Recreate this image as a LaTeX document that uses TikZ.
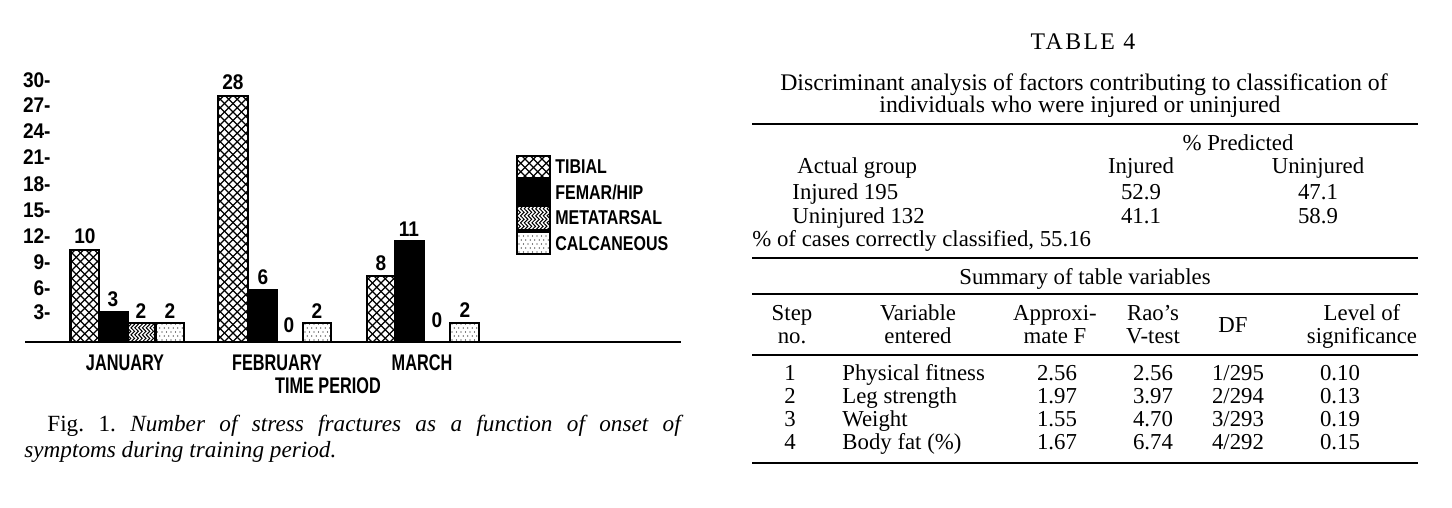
\documentclass[tikz,border=0pt]{standalone}
\usepackage{fontspec}
\setmainfont{Liberation Serif}
\newfontfamily\numfont[FakeStretch=0.9]{Liberation Sans}
\newfontfamily\legfont[FakeStretch=0.8]{Liberation Sans}
\newfontfamily\catfont[FakeStretch=0.72]{Liberation Sans}
\newfontfamily\titlefont[LetterSpace=10]{Liberation Serif}
\usetikzlibrary{decorations.pathmorphing}

\tikzset{
  chart/.style={font=\numfont\bfseries\fontsize{10.6}{12}\selectfont, inner sep=0pt, text height=7.5pt, text depth=0pt},
  leg/.style={font=\legfont\bfseries\fontsize{10}{12}\selectfont, inner sep=0pt, text height=7pt, text depth=0pt},
  cat/.style={font=\catfont\bfseries\fontsize{11.3}{12}\selectfont, inner sep=0pt, text height=8pt, text depth=0pt},
  tab/.style={font=\fontsize{11.4}{13}\selectfont, inner sep=0pt},
  tabcap/.style={font=\fontsize{11.9}{13}\selectfont, inner sep=0pt},
  capt/.style={font=\fontsize{11.6}{13}\selectfont, inner sep=0pt},
  barframe/.style={draw=black, line width=1.25pt},
  hatchline/.style={line width=0.55pt},
  waveline/.style={line width=0.5pt, decorate, decoration={snake, segment length=3.5pt, amplitude=0.9pt}},
  rule/.style={line width=0.7pt},
  axisline/.style={line width=1pt},
}

\newcommand{\xhatch}[4]{%
  \begin{scope}
    \clip (#1,#2) rectangle (#3,#4);
    \foreach \k in {-300,-291.5,...,42}{
      \draw[hatchline] ({#1+(\k)},{#4}) -- ++(300,-300);
      \draw[hatchline] ({#3-(\k)},{#4}) -- ++(-300,-300);
    }
  \end{scope}
  \draw[barframe] (#1,#2) rectangle (#3,#4);}

\newcommand{\stipple}[4]{%
  \begin{scope}
    \clip (#1,#2) rectangle (#3,#4);
    \foreach \i in {0,...,8}{\foreach \j in {0,...,6}{
      \fill ({#1+2+\i*4.5+mod(\j,2)*2.25},{#4-2-\j*4}) circle[radius=0.33pt];}}
  \end{scope}
  \draw[barframe] (#1,#2) rectangle (#3,#4);}

\newcommand{\wavy}[4]{%
  \begin{scope}
    \clip (#1,#2) rectangle (#3,#4);
    \foreach \i in {0,...,9}{
      \draw[waveline] ({#1+1.5+\i*3.8},{#4+2}) -- ({#1+1.5+\i*3.8},{#2-2});}
  \end{scope}
  \draw[barframe] (#1,#2) rectangle (#3,#4);}

\newcommand{\solid}[4]{%
  \fill[black] (#1,#2) rectangle (#3,#4);
  \draw[barframe] (#1,#2) rectangle (#3,#4);}

\begin{document}
\begin{tikzpicture}[x=0.5pt,y=-0.5pt]
\useasboundingbox (0,0) rectangle (1452,508);

% ---------- chart ----------
% January
\xhatch{70.5}{250}{99}{342}
\solid{99}{312}{127.5}{342}
\wavy{127.5}{323}{155.5}{342}
\stipple{155.5}{323}{184}{342}
% February
\xhatch{218}{96}{248}{342}
\solid{248}{290}{277}{342}
\stipple{303}{323}{331}{342}
% March
\xhatch{367}{276}{395}{342}
\solid{395}{241}{424}{342}
\stipple{450}{323}{479}{342}

% axis line
\coordinate (axL) at (25,342);
\coordinate (axR) at (681,342);
\draw[axisline] (axL) -- (axR);

% y labels
\foreach \v/\yy in {30/80,27/105,24/131,21/157,18/184,15/210,12/236,9/262,6/288,3/312}{
  \node[chart, anchor=east] (y\v) at (51,\yy) {\v-};
}

% value labels
\node[chart] (v1) at (85,236) {10};
\node[chart] (v2) at (113,299) {3};
\node[chart] (v3) at (141,311) {2};
\node[chart] (v4) at (170,311) {2};
\node[chart] (v5) at (233,82) {28};
\node[chart] (v6) at (263,277) {6};
\node[chart] (v7) at (289,325) {0};
\node[chart] (v8) at (317,311) {2};
\node[chart] (v9) at (381,263) {8};
\node[chart] (v10) at (409,229) {11};
\node[chart] (v11) at (437,320) {0};
\node[chart] (v12) at (465,310) {2};

% category labels
\node[cat] (jan) at (125,362) {JANUARY};
\node[cat] (feb) at (277,362) {FEBRUARY};
\node[cat] (mar) at (422,362) {MARCH};
\node[cat] (tp) at (328,385) {TIME PERIOD};

% legend
\xhatch{517}{156}{550}{178}
\solid{517}{180}{550}{204}
\wavy{517}{206}{550}{230}
\stipple{517}{232}{550}{254}
\node[leg, anchor=west] (l1) at (555,167) {TIBIAL};
\node[leg, anchor=west] (l2) at (555,192) {FEMAR/HIP};
\node[leg, anchor=west] (l3) at (555,218) {METATARSAL};
\node[leg, anchor=west] (l4) at (555,243) {CALCANEOUS};

% caption
\node[capt, anchor=base west] (fc1) at (47,431) {\frenchspacing\makebox[318pt][s]{Fig. 1. \textit{Number of stress fractures as a function of onset of}}};
\node[capt, anchor=base west] (fc2) at (24,457) {\textit{symptoms during training period.}};

% ---------- table ----------
\node[tabcap, anchor=base] (t4) at (1083,50) {\titlefont TABLE\ 4};
\node[tabcap, anchor=base] (tc1) at (1084,91) {Discriminant analysis of factors contributing to classification of};
\node[tabcap, anchor=base] (tc2) at (1080,113) {individuals who were injured or uninjured};

\coordinate (r1L) at (752,124); \coordinate (r1R) at (1418,124);
\draw[rule] (r1L) -- (r1R);

\node[tab, anchor=base] (pp) at (1238,151) {\% Predicted};
\node[tab, anchor=base west] (ag) at (797,174) {Actual group};
\node[tab, anchor=base] (hinj) at (1141,174) {Injured};
\node[tab, anchor=base] (hun) at (1318,174) {Uninjured};
\node[tab, anchor=base west] (g1) at (792,199) {Injured 195};
\node[tab, anchor=base] (g1a) at (1141,199) {52.9};
\node[tab, anchor=base] (g1b) at (1318,199) {47.1};
\node[tab, anchor=base west] (g2) at (792,223) {Uninjured 132};
\node[tab, anchor=base] (g2a) at (1141,223) {41.1};
\node[tab, anchor=base] (g2b) at (1318,223) {58.9};
\node[tab, anchor=base west] (pc) at (752,247) {\% of cases correctly classified, 55.16};

\coordinate (r2L) at (752,258); \coordinate (r2R) at (1418,258);
\draw[rule] (r2L) -- (r2R);
\node[tab, anchor=base] (sum) at (1085,284) {Summary of table variables};
\coordinate (r3L) at (752,294); \coordinate (r3R) at (1418,294);
\draw[rule] (r3L) -- (r3R);

\node[tab, anchor=base] (h1a) at (792,320) {Step};
\node[tab, anchor=base] (h1b) at (792,343) {no.};
\node[tab, anchor=base] (h2a) at (918,320) {Variable};
\node[tab, anchor=base] (h2b) at (918,343) {entered};
\node[tab, anchor=base] (h3a) at (1055,320) {Approxi-};
\node[tab, anchor=base] (h3b) at (1055,343) {mate F};
\node[tab, anchor=base] (h4a) at (1153,320) {Rao's};
\node[tab, anchor=base] (h4b) at (1153,343) {V-test};
\node[tab, anchor=base] (h5) at (1233,332) {DF};
\node[tab, anchor=base] (h6a) at (1362,320) {Level of};
\node[tab, anchor=base] (h6b) at (1362,343) {significance};

\coordinate (r4L) at (752,355); \coordinate (r4R) at (1418,355);
\draw[rule] (r4L) -- (r4R);

\foreach \n/\var/\f/\rao/\df/\sig/\yy in {
  1/Physical fitness/2.56/2.56/1\slash295/0.10/380,
  2/Leg strength/1.97/3.97/2\slash294/0.13/403,
  3/Weight/1.55/4.70/3\slash293/0.19/426,
  4/Body fat (\%)/1.67/6.74/4\slash292/0.15/449}{
  \node[tab, anchor=base] (s\n) at (790,\yy) {\n};
  \node[tab, anchor=base west] (var\n) at (842,\yy) {\var};
  \node[tab, anchor=base] (f\n) at (1057,\yy) {\f};
  \node[tab, anchor=base] (rao\n) at (1153,\yy) {\rao};
  \node[tab, anchor=base] (df\n) at (1238,\yy) {\df};
  \node[tab, anchor=base] (sig\n) at (1340,\yy) {\sig};
}

\coordinate (r5L) at (752,463); \coordinate (r5R) at (1418,463);
\draw[rule] (r5L) -- (r5R);
\end{tikzpicture}
\end{document}
